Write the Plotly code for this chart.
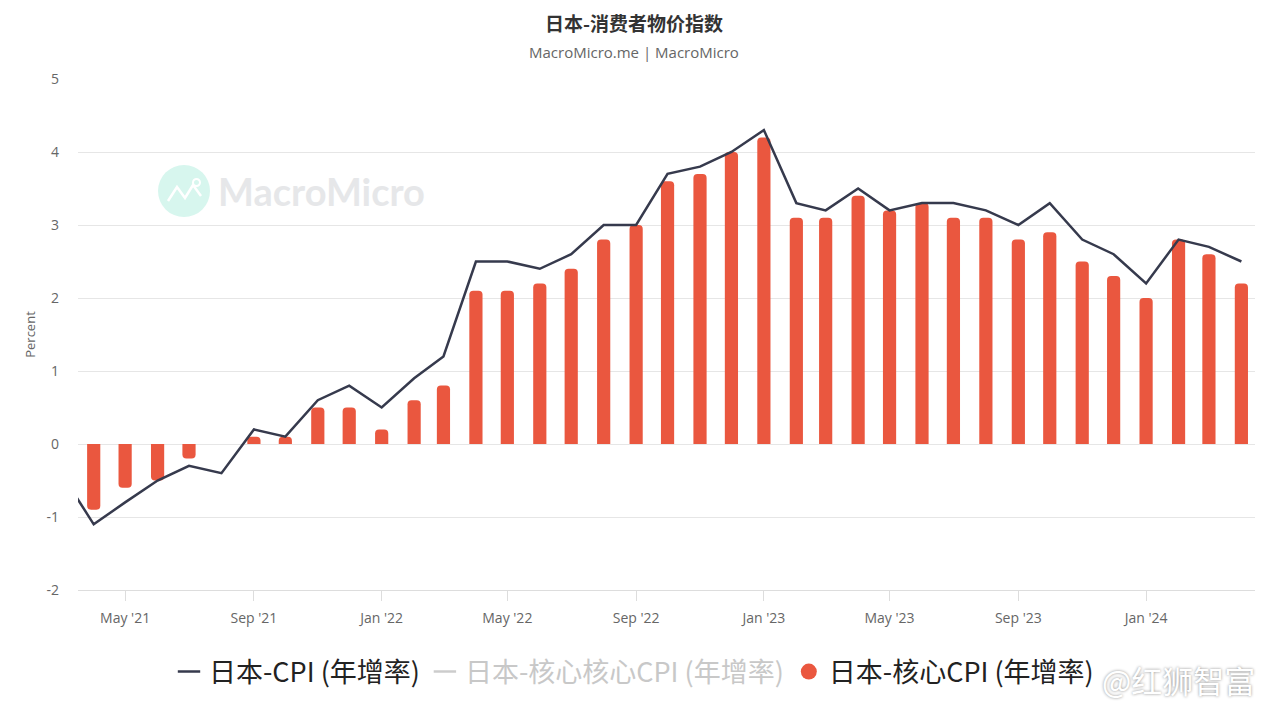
import plotly.graph_objects as go

# ---------------- data ----------------
months = [
    "2021-03-01", "2021-04-01", "2021-05-01", "2021-06-01", "2021-07-01", "2021-08-01",
    "2021-09-01", "2021-10-01", "2021-11-01", "2021-12-01", "2022-01-01", "2022-02-01",
    "2022-03-01", "2022-04-01", "2022-05-01", "2022-06-01", "2022-07-01", "2022-08-01",
    "2022-09-01", "2022-10-01", "2022-11-01", "2022-12-01", "2023-01-01", "2023-02-01",
    "2023-03-01", "2023-04-01", "2023-05-01", "2023-06-01", "2023-07-01", "2023-08-01",
    "2023-09-01", "2023-10-01", "2023-11-01", "2023-12-01", "2024-01-01", "2024-02-01",
    "2024-03-01", "2024-04-01",
]
cpi_yoy = [
    -0.4, -1.1, -0.8, -0.5, -0.3, -0.4,
    0.2, 0.1, 0.6, 0.8, 0.5, 0.9,
    1.2, 2.5, 2.5, 2.4, 2.6, 3.0,
    3.0, 3.7, 3.8, 4.0, 4.3, 3.3,
    3.2, 3.5, 3.2, 3.3, 3.3, 3.2,
    3.0, 3.3, 2.8, 2.6, 2.2, 2.8,
    2.7, 2.5,
]
core_cpi_yoy = [
    -0.1, -0.9, -0.6, -0.5, -0.2, 0.0,
    0.1, 0.1, 0.5, 0.5, 0.2, 0.6,
    0.8, 2.1, 2.1, 2.2, 2.4, 2.8,
    3.0, 3.6, 3.7, 4.0, 4.2, 3.1,
    3.1, 3.4, 3.2, 3.3, 3.1, 3.1,
    2.8, 2.9, 2.5, 2.3, 2.0, 2.8,
    2.6, 2.2,
]
y_ticks = [-2, -1, 0, 1, 2, 3, 4, 5]
y_tick_labels = ["-2", "-1", "0", "1", "2", "3", "4", "5"]

name_cpi = "日本-CPI (年增率)"
name_core_core = "日本-核心核心CPI (年增率)"
name_core = "日本-核心CPI (年增率)"

# ---------------- style ----------------
LINE_COLOR = "#363a4d"
BAR_COLOR = "#ea573f"
GRID = "#e6e6e6"
LATIN = "Open Sans"

OFF = 8  # page body offset
W, H = 1268 - OFF, 714 - OFF
L, R, T, B = 78 - OFF, 1255 - OFF, 79 - OFF, 590 - OFF


def px(x):  # reference screen x -> paper
    return (x - OFF - L) / (R - L)


def py(y):  # reference screen y -> paper
    return (B - (y - OFF)) / (B - T)


fig = go.Figure()

fig.add_trace(go.Bar(
    x=months, y=core_cpi_yoy, name=name_core,
    marker=dict(color=BAR_COLOR, line=dict(width=0)),
    width=12.6 * 86400000, showlegend=False, hoverinfo="skip",
))

fig.add_trace(go.Scatter(
    x=months, y=cpi_yoy, name=name_cpi, mode="lines",
    line=dict(color=LINE_COLOR, width=2.5), hoverinfo="skip", showlegend=False,
))

# legend entries
fig.add_trace(go.Scatter(
    x=[None], y=[None], mode="markers", name=name_cpi,
    marker=dict(symbol="line-ew-open", size=22, color=LINE_COLOR,
                line=dict(color=LINE_COLOR, width=2.5)),
))
fig.add_trace(go.Scatter(
    x=[None], y=[None], mode="markers",
    name='<span style="color:#c8c8c8">' + name_core_core + '</span>',
    marker=dict(symbol="line-ew-open", size=22, color="#cccccc",
                line=dict(color="#cccccc", width=2.5)),
))
fig.add_trace(go.Scatter(
    x=[None], y=[None], mode="markers", name=name_core,
    marker=dict(color=BAR_COLOR, size=23, symbol="circle"),
))

# watermark logo
fig.add_shape(type="circle", xref="paper", yref="paper",
              x0=px(158), x1=px(210), y0=py(217), y1=py(165),
              fillcolor="#d7f6ee", line=dict(width=0), layer="below")
pts = [(168, 201), (177, 187), (185, 198), (193, 185), (201, 196)]
path = "M " + " L ".join(f"{px(a)},{py(b)}" for a, b in pts)
fig.add_shape(type="path", xref="paper", yref="paper", path=path,
              line=dict(color="white", width=2.5), layer="below")
fig.add_shape(type="circle", xref="paper", yref="paper",
              x0=px(193), x1=px(200), y0=py(186), y1=py(179),
              line=dict(color="white", width=2), layer="below")
fig.add_annotation(text="<b>MacroMicro</b>", xref="paper", yref="paper",
                   x=px(216), y=py(191), xanchor="left", yanchor="middle",
                   showarrow=False,
                   font=dict(family="Lato, sans-serif", size=38, color="#e6e7e9"))

# title + subtitle
fig.add_annotation(text="<b>日本-消费者物价指数</b>", xref="paper", yref="paper",
                   x=px(634), y=py(22), xanchor="center", yanchor="middle",
                   showarrow=False, borderpad=0,
                   font=dict(family="Noto Sans CJK SC", size=19, color="#333333"))
fig.add_annotation(text="MacroMicro.me | MacroMicro", xref="paper", yref="paper",
                   x=px(634), y=py(52), xanchor="center", yanchor="middle",
                   showarrow=False,
                   font=dict(family=LATIN, size=15, color="#666666"))

# overlay watermark
fig.add_annotation(text="@红狮智富", xref="paper", yref="paper",
                   x=px(1257), y=py(680), xanchor="right", yanchor="middle",
                   showarrow=False,
                   font=dict(family="Noto Sans CJK SC", size=31, color="#ffffff",
                             shadow="0px 0px 3px #8a8a8a"))

fig.update_layout(
    width=W, height=H,
    margin=dict(l=L, r=W - R, t=T, b=H - B, autoexpand=False),
    paper_bgcolor="white", plot_bgcolor="white",
    barcornerradius=4,
    font=dict(family=LATIN + ", Noto Sans CJK SC", color="#666666"),
    legend=dict(orientation="h", xref="container", x=(634 - OFF) / W, xanchor="center",
                yref="container", y=1 - (672 - OFF) / H, yanchor="middle",
                font=dict(family="Noto Sans CJK SC, Open Sans", size=27, color="#222222"),
                itemwidth=30, traceorder="normal", itemclick=False),
    hovermode=False,
    xaxis=dict(
        type="date", range=["2021-03-17", "2024-04-14"],
        tick0="2021-05-01", dtick="M4", tickformat="%b '%y",
        showgrid=False, showline=True, linecolor="#dddddd", linewidth=1,
        ticks="outside", ticklen=10, tickcolor="#dddddd", tickwidth=1,
        ticklabelstandoff=5,
        tickfont=dict(family=LATIN, size=14, color="#666666"),
        zeroline=False, fixedrange=True,
    ),
    yaxis=dict(
        range=[-2, 5], tickvals=y_ticks, ticktext=y_tick_labels,
        showgrid=True, gridcolor=GRID, gridwidth=1,
        zeroline=True, zerolinecolor=GRID, zerolinewidth=1,
        tickfont=dict(family=LATIN, size=14, color="#666666"),
        ticks="", ticklabelstandoff=18,
        title=dict(text="Percent", font=dict(family=LATIN, size=13, color="#666666"),
                   standoff=7),
        fixedrange=True,
    ),
)

fig.write_html("out.html")
